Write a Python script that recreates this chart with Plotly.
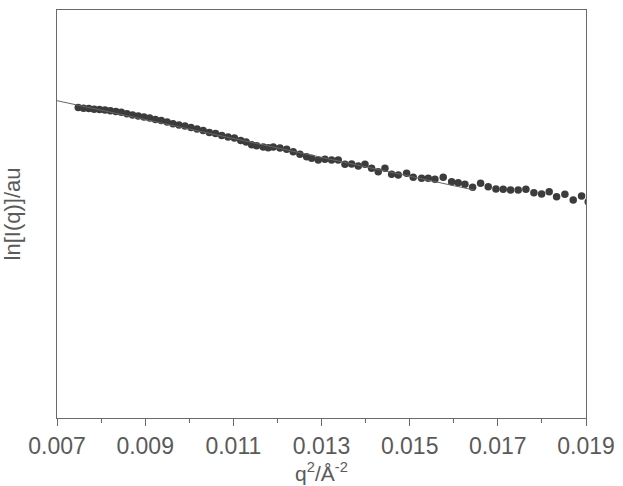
import plotly.graph_objects as go

# q^2 values (Å^-2)
q2 = [0.007482, 0.007601, 0.007721, 0.007842, 0.007964, 0.008087, 0.008210, 0.008335,
      0.008460, 0.008587, 0.008714, 0.008843, 0.008972, 0.009102, 0.009233, 0.009365,
      0.009498, 0.009632, 0.009767, 0.009903, 0.010040, 0.010178, 0.010316, 0.010456,
      0.010597, 0.010738, 0.010881, 0.011024, 0.011168, 0.011290,
      0.011416, 0.011529, 0.011679, 0.011792, 0.011906, 0.012058, 0.012210, 0.012359,
      0.012511, 0.012663, 0.012777, 0.012926, 0.013078, 0.013230, 0.013380, 0.013532,
      0.013684, 0.013834, 0.013986, 0.014137, 0.014287, 0.014439, 0.014591, 0.014741,
      0.014931, 0.015081,
      0.015271, 0.015421, 0.015573, 0.015761, 0.015952, 0.016101, 0.016253, 0.016428,
      0.016609, 0.016782, 0.016957, 0.017122, 0.017290, 0.017462, 0.017637, 0.017818,
      0.017993, 0.018165, 0.018333, 0.018521, 0.018710, 0.018900, 0.019050]

# ln[I(q)] (arbitrary units)
lnI = [7.610, 7.593, 7.586, 7.566, 7.561, 7.549, 7.529, 7.512,
       7.493, 7.456, 7.426, 7.402, 7.377, 7.353, 7.316, 7.292,
       7.255, 7.211, 7.181, 7.157, 7.120, 7.083, 7.047, 6.998,
       6.973, 6.924, 6.887, 6.863, 6.801, 6.765,
       6.700, 6.672, 6.640, 6.625, 6.640, 6.615, 6.586, 6.527,
       6.463, 6.404, 6.365, 6.324, 6.341, 6.324, 6.324, 6.218,
       6.225, 6.176, 6.218, 6.120, 6.037, 6.120, 5.973, 5.956,
       5.998, 5.900,
       5.875, 5.875, 5.850, 5.900, 5.792, 5.767, 5.728, 5.654,
       5.752, 5.669, 5.613, 5.605, 5.588, 5.588, 5.605, 5.522,
       5.490, 5.547, 5.424, 5.483, 5.343, 5.441, 5.301]

# linear fit (Guinier)
fit_x = [0.007, 0.01648]
fit_y = [7.777, 5.583]

x_ticks = [0.007, 0.009, 0.011, 0.013, 0.015, 0.017, 0.019]
x_tick_text = ["0.007", "0.009", "0.011", "0.013", "0.015", "0.017", "0.019"]

fig = go.Figure()
fig.add_trace(go.Scatter(x=q2, y=lnI, mode="markers",
                         marker=dict(size=7.5, color="#3c3c3c", line=dict(width=0)),
                         cliponaxis=True, showlegend=False))
fig.add_trace(go.Scatter(x=fit_x, y=fit_y, mode="lines",
                         line=dict(color="#666666", width=1), showlegend=False))

axis_color = "#6a6a6a"
fig.update_layout(
    width=623, height=486,
    margin=dict(l=57, r=37, t=10, b=68, autoexpand=False),
    paper_bgcolor="white", plot_bgcolor="white",
    font=dict(family="Liberation Sans, Arial, sans-serif", color="#555555"),
    xaxis=dict(range=[0.007, 0.019], tickvals=x_ticks, ticktext=x_tick_text,
               ticks="outside", ticklen=7, tickwidth=1, tickcolor=axis_color,
               minor=dict(dtick=0.001, ticks="outside", ticklen=4, tickcolor=axis_color),
               showline=True, linecolor=axis_color, linewidth=1.3, mirror=True,
               showgrid=False, zeroline=False, automargin=False,
               tickfont=dict(size=23, color="#5a5a5a"),
               title=dict(text="q<sup>2</sup>/Å<sup>-2</sup>", font=dict(size=21, color="#5a5a5a"),
                          standoff=8)),
    yaxis=dict(range=[0, 10], showticklabels=False, ticks="",
               showline=True, linecolor=axis_color, linewidth=1.3, mirror=True,
               showgrid=False, zeroline=False, automargin=False,
               title=dict(text="ln[I(q)]/au", font=dict(size=22, color="#5a5a5a"),
                          standoff=30)),
)

fig.write_html("out.html")
